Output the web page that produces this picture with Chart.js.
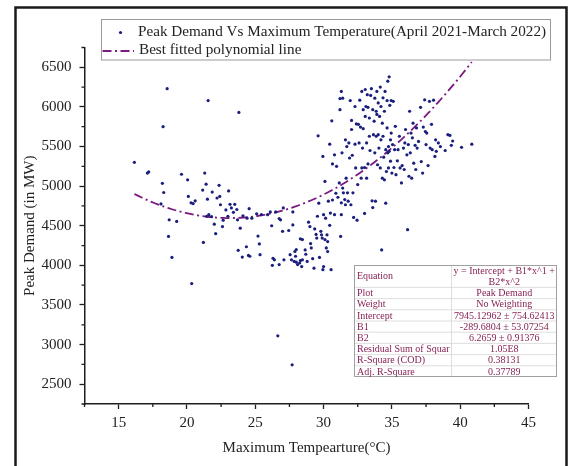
<!DOCTYPE html>
<html>
<head>
<meta charset="utf-8">
<script src="https://cdn.jsdelivr.net/npm/chart.js@4.4.1/dist/chart.umd.min.js"></script>
<style>
  html, body { margin: 0; padding: 0; background: #ffffff; }
  canvas { display: block; }
</style>
</head>
<body>
<canvas id="chart" width="573" height="466"></canvas>
<script>
// Daily maximum temperature (°C) and the matching peak demand (MW)
const maxTemperature = [
  16.15, 17.1, 17.2, 18.55, 18.25, 18.2, 18.3, 18.1, 18.7, 18.65, 18.9, 19.25, 19.6, 20.05, 20.1, 20.3,
  20.45, 20.6, 20.35, 21.2, 21.15, 21.3, 21.4, 21.55, 21.5, 21.6, 21.45, 21.8, 21.85, 22.0, 22.1, 22.2,
  22.35, 22.4, 22.45, 22.6, 22.65, 22.85, 23.0, 23.05, 23.15, 23.25, 23.4, 23.5, 23.7, 23.75, 23.8, 23.65,
  23.9, 24.05, 24.1, 24.35, 24.4, 24.55, 24.6, 24.75, 24.5, 25.1, 25.2, 25.3, 25.35, 25.45, 25.9, 26.1,
  26.2, 26.25, 26.3, 26.4, 26.5, 26.65, 26.75, 26.85, 27.0, 27.05, 26.75, 27.1, 27.45, 27.55, 27.7, 27.75,
  27.65, 27.85, 27.95, 27.9, 28.0, 28.1, 28.25, 28.3, 28.4, 28.45, 27.75, 28.0, 28.3, 28.45, 28.65, 28.7,
  28.8, 28.9, 29.0, 29.05, 29.1, 29.2, 29.3, 29.35, 29.45, 29.5, 29.55, 29.6, 29.65, 29.7, 29.8, 29.85,
  29.9, 29.95, 30.0, 29.95, 30.0, 30.1, 30.1, 30.15, 30.2, 30.25, 30.3, 30.3, 30.35, 30.45, 30.45, 30.5,
  30.55, 30.6, 30.65, 30.65, 30.8, 30.8, 30.9, 30.95, 31.05, 31.15, 31.2, 31.25, 31.3, 31.2, 31.4, 31.3,
  31.35, 31.4, 31.45, 31.55, 31.3, 31.6, 31.6, 31.65, 31.7, 31.75, 31.8, 31.85, 31.9, 31.95, 32.0, 32.05,
  32.05, 32.1, 32.15, 32.2, 32.3, 32.3, 32.35, 32.4, 32.45, 32.5, 32.55, 32.6, 32.65, 32.7, 32.75, 32.8,
  32.8, 32.85, 32.9, 32.9, 33.0, 33.0, 33.05, 33.05, 33.1, 33.15, 33.15, 33.2, 33.25, 33.25, 33.35, 33.35,
  33.4, 33.45, 33.5, 33.55, 33.6, 33.6, 33.65, 33.7, 33.75, 33.75, 33.8, 33.85, 33.85, 33.9, 33.9, 33.95,
  34.0, 34.0, 34.05, 34.1, 34.15, 34.15, 34.2, 34.2, 34.25, 34.3, 34.3, 34.35, 34.35, 34.4, 34.45, 34.45,
  34.5, 34.55, 34.55, 34.6, 34.65, 34.65, 34.7, 34.7, 34.75, 34.75, 34.8, 34.8, 34.85, 34.9, 34.9, 34.95,
  34.95, 35.0, 35.05, 35.1, 35.15, 35.2, 35.25, 35.3, 35.4, 35.45, 35.55, 35.6, 35.7, 35.75, 35.85, 35.9,
  35.95, 36.0, 36.1, 36.15, 36.2, 36.25, 36.3, 36.35, 36.4, 36.45, 36.5, 36.55, 36.6, 36.7, 36.75, 36.8,
  36.85, 36.95, 37.1, 37.15, 37.25, 37.3, 37.4, 37.45, 37.5, 37.55, 37.65, 37.75, 37.8, 37.9, 37.95, 38.05,
  38.15, 38.2, 38.25, 38.4, 38.55, 38.9, 39.1, 39.25, 39.35, 39.45, 40.1, 40.85
];
const peakDemand = [
  5300, 5165, 5180, 6230, 5750, 5035, 4920, 4775, 4575, 4365, 4100, 4555, 5150, 5080, 4870, 4790,
  4780, 4815, 3770, 4290, 4950, 5165, 5025, 6080, 4835, 4640, 4620, 4615, 4925, 4520, 4400, 4850,
  5010, 4870, 4765, 4490, 4570, 4700, 4620, 4940, 4770, 4725, 4670, 4770, 4575, 4190, 5930, 4705,
  4470, 4105, 4625, 4235, 4595, 4715, 4115, 4595, 4125, 4650, 4370, 4270, 4135, 4640, 4640, 4675,
  4500, 4000, 4090, 4070, 4675, 3110, 4590, 4575, 4430, 4725, 4010, 4070, 4440, 4135, 2745, 4675,
  4070, 4050, 4115, 4175, 4040, 4010, 4030, 4060, 3985, 4070, 4510, 4200, 4335, 4325, 4195, 4140,
  4050, 4545, 4490, 4275, 4220, 4085, 3965, 4460, 4390, 4345, 4620, 5635, 4785, 4100, 4430, 4385,
  4345, 5375, 4640, 3945, 3985, 5060, 4325, 4595, 4220, 4385, 4300, 4175, 4810, 5530, 4505, 4660,
  3945, 5825, 5280, 4825, 4640, 5395, 4910, 5250, 4860, 5040, 5965, 4365, 6195, 6105, 6110, 4640,
  5420, 4975, 4915, 4830, 4790, 5585, 4765, 5100, 5500, 4915, 4810, 5545, 5355, 6080, 4765, 5715,
  5830, 5390, 4915, 4605, 5530, 6005, 5230, 5785, 4570, 5020, 5780, 5545, 6085, 5745, 5100, 6195,
  5230, 5480, 5725, 5965, 4655, 5235, 6220, 5880, 6005, 5545, 5100, 6155, 5995, 5280, 5630, 5860,
  5450, 6145, 6230, 4815, 5965, 4730, 5650, 5820, 6110, 5420, 4810, 5945, 5630, 6195, 5905, 5270,
  6050, 5650, 5480, 5880, 5230, 6250, 6005, 5585, 4195, 5795, 5100, 6115, 5630, 5365, 5945, 5080,
  6195, 5460, 4785, 5185, 5735, 6080, 5420, 6325, 5500, 5230, 6380, 5440, 6020, 5585, 5315, 5670,
  6080, 5165, 5525, 6070, 5235, 5460, 5755, 5145, 5320, 5460, 5630, 5230, 5040, 5260, 5480, 5210,
  5545, 5715, 5395, 4450, 5525, 5125, 5945, 5420, 5670, 5100, 5610, 5795, 5290, 5515, 5210, 5735,
  5480, 5565, 5995, 5310, 5165, 5745, 6090, 5690, 5525, 5670, 5260, 6070, 5480, 5780, 5460, 6085,
  5375, 5585, 5440, 5545, 5500, 5450, 5650, 5640, 5515, 5570, 5490, 5530
];

// Quadratic fit: y = Intercept + B1*x + B2*x^2
const fitCoefficients = [7945.12962, -289.6804, 6.2659];

const seriesLabels = [
  'Peak Demand Vs Maximum Temperature(April 2021-March 2022)',
  'Best fitted polynomial line'
];
const xTitle = 'Maximum Tempearture(°C)';
const yTitle = 'Peak Demand (in MW)';
const xTickValues = [15, 20, 25, 30, 35, 40, 45];
const yTickValues = [2500, 3000, 3500, 4000, 4500, 5000, 5500, 6000, 6500];

const fitTableLabels = ['Equation', 'Plot', 'Weight', 'Intercept', 'B1', 'B2',
  'Residual Sum of Squar', 'R-Square (COD)', 'Adj. R-Square'];
const fitTableValues = [['y = Intercept + B1*x^1 +', 'B2*x^2'], 'Peak Demand', 'No Weighting',
  '7945.12962 \u00b1 754.62413', '-289.6804 \u00b1 53.07254', '6.2659 \u00b1 0.91376',
  '1.05E8', '0.38131', '0.37789'];

const FONT = "'Liberation Serif', 'Times New Roman', serif";
const NAVY = '#1a1e7c';
const PURPLE = '#7a1a80';
const AXIS = '#1e1e1e';
const TEXT = '#222222';
const TABLE_TEXT = '#862255';

const scatterPoints = maxTemperature.map((t, i) => ({ x: t, y: peakDemand[i] }));

// Evaluate the fitted polynomial across the observed temperature span
const tMin = Math.min(...maxTemperature);
const tMax = Math.max(...maxTemperature);
const fitPoints = [];
for (let t = tMin; t < tMax; t += 0.25) {
  fitPoints.push({ x: t, y: fitCoefficients[0] + fitCoefficients[1] * t + fitCoefficients[2] * t * t });
}
fitPoints.push({ x: tMax, y: fitCoefficients[0] + fitCoefficients[1] * tMax + fitCoefficients[2] * tMax * tMax });

// White page with the dark outer frame
const framePlugin = {
  id: 'frame',
  beforeDraw(chart) {
    const ctx = chart.ctx;
    ctx.save();
    ctx.fillStyle = '#ffffff';
    ctx.fillRect(0, 0, chart.width, chart.height);
    ctx.strokeStyle = '#1a1a1a';
    ctx.lineWidth = 2.5;
    ctx.beginPath();
    ctx.moveTo(15.5, chart.height + 5);
    ctx.lineTo(15.5, 7.5);
    ctx.lineTo(566.5, 7.5);
    ctx.lineTo(566.5, chart.height + 5);
    ctx.stroke();
    ctx.restore();
  }
};

// Short minor ticks halfway between the labelled ones
const minorTicksPlugin = {
  id: 'minorTicks',
  afterDraw(chart) {
    const ctx = chart.ctx;
    const xs = chart.scales.x, ys = chart.scales.y;
    const area = chart.chartArea;
    ctx.save();
    ctx.strokeStyle = AXIS;
    ctx.lineWidth = 1.3;
    ctx.beginPath();
    const xStep = xTickValues[1] - xTickValues[0];
    for (let v = xTickValues[0] - xStep / 2; v <= xs.max + 1e-9; v += xStep) {
      if (v < xs.min - 1e-9) continue;
      const px = xs.getPixelForValue(v);
      ctx.moveTo(px, area.bottom);
      ctx.lineTo(px, area.bottom + 3);
    }
    const yStep = yTickValues[1] - yTickValues[0];
    for (let v = yTickValues[0] - yStep / 2; v <= ys.max + 1e-9; v += yStep) {
      if (v < ys.min - 1e-9) continue;
      const py = ys.getPixelForValue(v);
      ctx.moveTo(area.left, py);
      ctx.lineTo(area.left - 3, py);
    }
    ctx.stroke();
    ctx.restore();
  }
};

// Boxed legend in the upper part of the plot
const legendBoxPlugin = {
  id: 'legendBox',
  afterDraw(chart) {
    const ctx = chart.ctx;
    const ds = chart.data.datasets;
    ctx.save();
    ctx.fillStyle = '#ffffff';
    ctx.fillRect(101.5, 19.5, 449, 40.5);
    ctx.strokeStyle = '#9a9a9a';
    ctx.lineWidth = 1;
    ctx.strokeRect(101.5, 19.5, 449, 40.5);

    ctx.font = '15.2px ' + FONT;
    ctx.textBaseline = 'middle';
    ctx.textAlign = 'left';

    // scatter entry
    ctx.fillStyle = ds[0].backgroundColor;
    ctx.beginPath();
    ctx.arc(120.5, 32.5, 1.6, 0, Math.PI * 2);
    ctx.fill();
    ctx.fillStyle = TEXT;
    ctx.fillText(ds[0].label, 138, 32);

    // fitted-line entry
    ctx.strokeStyle = ds[1].borderColor;
    ctx.lineWidth = ds[1].borderWidth;
    ctx.setLineDash(ds[1].borderDash);
    ctx.beginPath();
    ctx.moveTo(102.5, 51);
    ctx.lineTo(134, 51);
    ctx.stroke();
    ctx.setLineDash([]);
    ctx.fillText(ds[1].label, 139, 50.5);
    ctx.restore();
  }
};

// Fit statistics table in the lower right of the plot
const fitTablePlugin = {
  id: 'fitTable',
  afterDraw(chart) {
    const ctx = chart.ctx;
    const left = 354, right = 557, split = 451.5, top = 265;
    const rowH = 11.2;
    const firstRowH = 2 * rowH;
    const bottom = top + firstRowH + rowH * (fitTableLabels.length - 1);
    ctx.save();
    ctx.fillStyle = '#ffffff';
    ctx.fillRect(left, top, right - left, bottom - top);

    ctx.strokeStyle = '#d6d6d6';
    ctx.lineWidth = 0.8;
    ctx.beginPath();
    let y = top + firstRowH;
    for (let i = 1; i < fitTableLabels.length; i++) {
      ctx.moveTo(left, y);
      ctx.lineTo(right, y);
      y += rowH;
    }
    ctx.moveTo(split, top);
    ctx.lineTo(split, bottom);
    ctx.stroke();

    ctx.strokeStyle = '#a0a0a0';
    ctx.lineWidth = 1;
    ctx.strokeRect(left + 0.5, top + 0.5, right - left - 1, bottom - top - 1);

    ctx.font = '10px ' + FONT;
    ctx.fillStyle = TABLE_TEXT;
    ctx.textBaseline = 'middle';
    y = top;
    for (let i = 0; i < fitTableLabels.length; i++) {
      const h = i === 0 ? firstRowH : rowH;
      ctx.textAlign = 'left';
      ctx.fillText(fitTableLabels[i], left + 3, y + h / 2 + 0.5);
      ctx.textAlign = 'center';
      const val = fitTableValues[i];
      const cx = (split + right) / 2;
      if (Array.isArray(val)) {
        ctx.fillText(val[0], cx, y + rowH / 2 + 0.5);
        ctx.fillText(val[1], cx, y + rowH * 1.5 + 0.5);
      } else {
        ctx.fillText(val, cx, y + h / 2 + 0.5);
      }
      y += h;
    }
    ctx.restore();
  }
};

new Chart(document.getElementById('chart').getContext('2d'), {
  type: 'scatter',
  data: {
    datasets: [
      {
        label: seriesLabels[0],
        data: scatterPoints,
        backgroundColor: NAVY,
        borderColor: NAVY,
        borderWidth: 0,
        pointRadius: 1.6,
        pointHoverRadius: 1.6,
        order: 0
      },
      {
        type: 'line',
        label: seriesLabels[1],
        data: fitPoints,
        showLine: true,
        borderColor: PURPLE,
        borderWidth: 1.8,
        borderDash: [9, 3.5, 2, 3.5],
        pointRadius: 0,
        pointHoverRadius: 0,
        fill: false,
        tension: 0,
        order: 1
      }
    ]
  },
  options: {
    responsive: false,
    animation: false,
    devicePixelRatio: 1,
    layout: { padding: { left: 0, right: 44.5, top: 47.5, bottom: 0 } },
    plugins: {
      legend: { display: false },
      tooltip: { enabled: false }
    },
    scales: {
      x: {
        type: 'linear',
        min: 12.5,
        max: 45,
        afterBuildTicks: (s) => { s.ticks = xTickValues.map(v => ({ value: v })); },
        afterFit: (s) => { s.height = 62; },
        grid: { display: true, drawOnChartArea: false, drawTicks: true, tickLength: 5, tickColor: AXIS, tickWidth: 1.3 },
        border: { display: true, color: AXIS, width: 1.5 },
        ticks: {
          padding: 5,
          color: TEXT,
          maxRotation: 0,
          autoSkip: false,
          font: { family: FONT, size: 15 },
          callback: (v) => String(v)
        },
        title: {
          display: true,
          text: xTitle,
          color: TEXT,
          font: { family: FONT, size: 15 },
          padding: { top: 0, bottom: 9 }
        }
      },
      y: {
        type: 'linear',
        min: 2250,
        max: 6750,
        afterBuildTicks: (s) => { s.ticks = yTickValues.map(v => ({ value: v })); },
        afterFit: (s) => { s.width = 84.5; },
        grid: { display: true, drawOnChartArea: false, drawTicks: true, tickLength: 5, tickColor: AXIS, tickWidth: 1.3 },
        border: { display: true, color: AXIS, width: 1.5 },
        ticks: {
          padding: 8,
          color: TEXT,
          autoSkip: false,
          font: { family: FONT, size: 15 },
          callback: (v) => String(v)
        },
        title: {
          display: true,
          text: yTitle,
          color: TEXT,
          font: { family: FONT, size: 15 },
          padding: { top: 21, bottom: 0 }
        }
      }
    }
  },
  plugins: [framePlugin, minorTicksPlugin, legendBoxPlugin, fitTablePlugin]
});
</script>
</body>
</html>
